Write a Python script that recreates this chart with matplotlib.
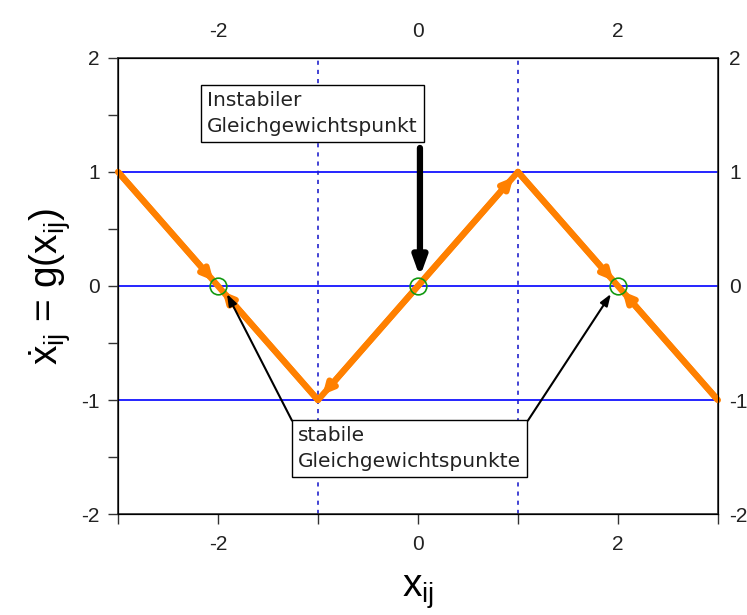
import matplotlib
matplotlib.use("Agg")
import matplotlib.pyplot as plt

plt.rcParams["font.family"] = ["Liberation Sans", "DejaVu Sans"]
plt.rcParams["axes.unicode_minus"] = False
plt.rcParams["mathtext.fontset"] = "custom"
plt.rcParams["mathtext.rm"] = "Liberation Sans"
plt.rcParams["mathtext.it"] = "Liberation Sans"

# piecewise linear g(x): corner points of the zigzag
seg_start = [(0, 0), (-1, -1), (-3, 1), (0, 0), (1, 1), (3, -1)]
seg_end = [(-1, -1), (-2, 0), (-2, 0), (1, 1), (2, 0), (2, 0)]
curve_x = [-3, -1, 1, 3]
curve_y = [1, -1, 1, -1]

equilibria_x = [-2, 0, 2]
equilibria_y = [0, 0, 0]

hlines_y = [-1, 0, 1]
vlines_x = [-1, 1]

bottom_ticks = [-3, -2, -1, 0, 1, 2, 3]
bottom_labels = ["", "-2", "", "0", "", "2", ""]
left_major = [-2, -1, 0, 1, 2]
left_minor = [-1.5, -0.5, 0.5, 1.5]
top_ticks = [-2, 0, 2]
right_ticks = [-2, -1, 0, 1, 2]

fig = plt.figure(figsize=(7.47, 6.15), dpi=100)
ax = fig.add_axes([0.158, 0.164, 0.803, 0.742])

for y in hlines_y:
    ax.axhline(y, color="#0000ff", lw=1.2, zorder=1)
for x in vlines_x:
    ax.axvline(x, color="#2222cc", lw=1.2, ls=(0, (2.5, 3)), zorder=1)

orange = "#ff8000"
ax.plot(curve_x, curve_y, color=orange, lw=4.5, solid_capstyle="butt", zorder=2)
for (x0, y0), (x1, y1) in zip(seg_start, seg_end):
    ax.annotate("", xy=(x1, y1), xytext=(x0, y0),
                arrowprops=dict(arrowstyle="-|>,head_length=0.6,head_width=0.3",
                                color=orange, lw=4.5, shrinkA=0, shrinkB=5),
                zorder=3)

ax.plot(equilibria_x, equilibria_y, "o", ms=12, mfc="none", mec="#119911",
        mew=1.2, zorder=4)

box = dict(boxstyle="square,pad=0.3", fc="white", ec="black", lw=1)
box_font = dict(family="DejaVu Sans", fontsize=14.5, color="#222222",
                linespacing=1.45)
ax.text(-2.11, 1.71, "Instabiler\nGleichgewichtspunkt", ha="left", va="top",
        bbox=box, zorder=6, **box_font)
ax.annotate("", xy=(0.02, 0.08), xytext=(0.02, 1.21),
            arrowprops=dict(arrowstyle="-|>,head_length=1.1,head_width=0.4",
                            color="black", lw=4.5, shrinkA=0, shrinkB=0),
            zorder=5)

ax.text(-1.20, -1.23, "stabile\nGleichgewichtspunkte", ha="left", va="top",
        bbox=box, zorder=6, **box_font)
ax.annotate("", xy=(-1.91, -0.07), xytext=(-1.26, -1.18),
            arrowprops=dict(arrowstyle="-|>,head_length=0.7,head_width=0.25",
                            color="black", lw=1.5, shrinkA=0, shrinkB=0),
            zorder=5)
ax.annotate("", xy=(1.93, -0.07), xytext=(1.10, -1.18),
            arrowprops=dict(arrowstyle="-|>,head_length=0.7,head_width=0.25",
                            color="black", lw=1.5, shrinkA=0, shrinkB=0),
            zorder=5)

ax.set_xlim(-3, 3)
ax.set_ylim(-2, 2)
ax.set_xticks(bottom_ticks)
ax.set_xticklabels(bottom_labels)
ax.set_yticks(left_major)
ax.set_yticks(left_minor, minor=True)
ax.tick_params(axis="both", which="both", direction="out", length=7,
               width=1, color="#333333", labelsize=15, pad=6,
               labelcolor="#222222")
ax.tick_params(axis="x", pad=8)
for sp in ax.spines.values():
    sp.set_color("#333333")
    sp.set_linewidth(1.2)

# unticked labels along top and right edges
top = ax.twiny()
top.set_xlim(-3, 3)
top.set_xticks(top_ticks)
top.tick_params(length=0, labelsize=15, pad=12, labelcolor="#222222")
right = ax.twinx()
right.set_ylim(-2, 2)
right.set_yticks(right_ticks)
right.tick_params(length=0, labelsize=15, pad=8, labelcolor="#222222")

ax.set_xlabel(r"x$_{\mathrm{ij}}$", fontsize=28, labelpad=14)
ax.set_ylabel(r"$\dot{\mathrm{x}}_{\mathrm{ij}}$ = g(x$_{\mathrm{ij}}$)",
              fontsize=28, labelpad=6)

fig.savefig("out.png", dpi=100)
